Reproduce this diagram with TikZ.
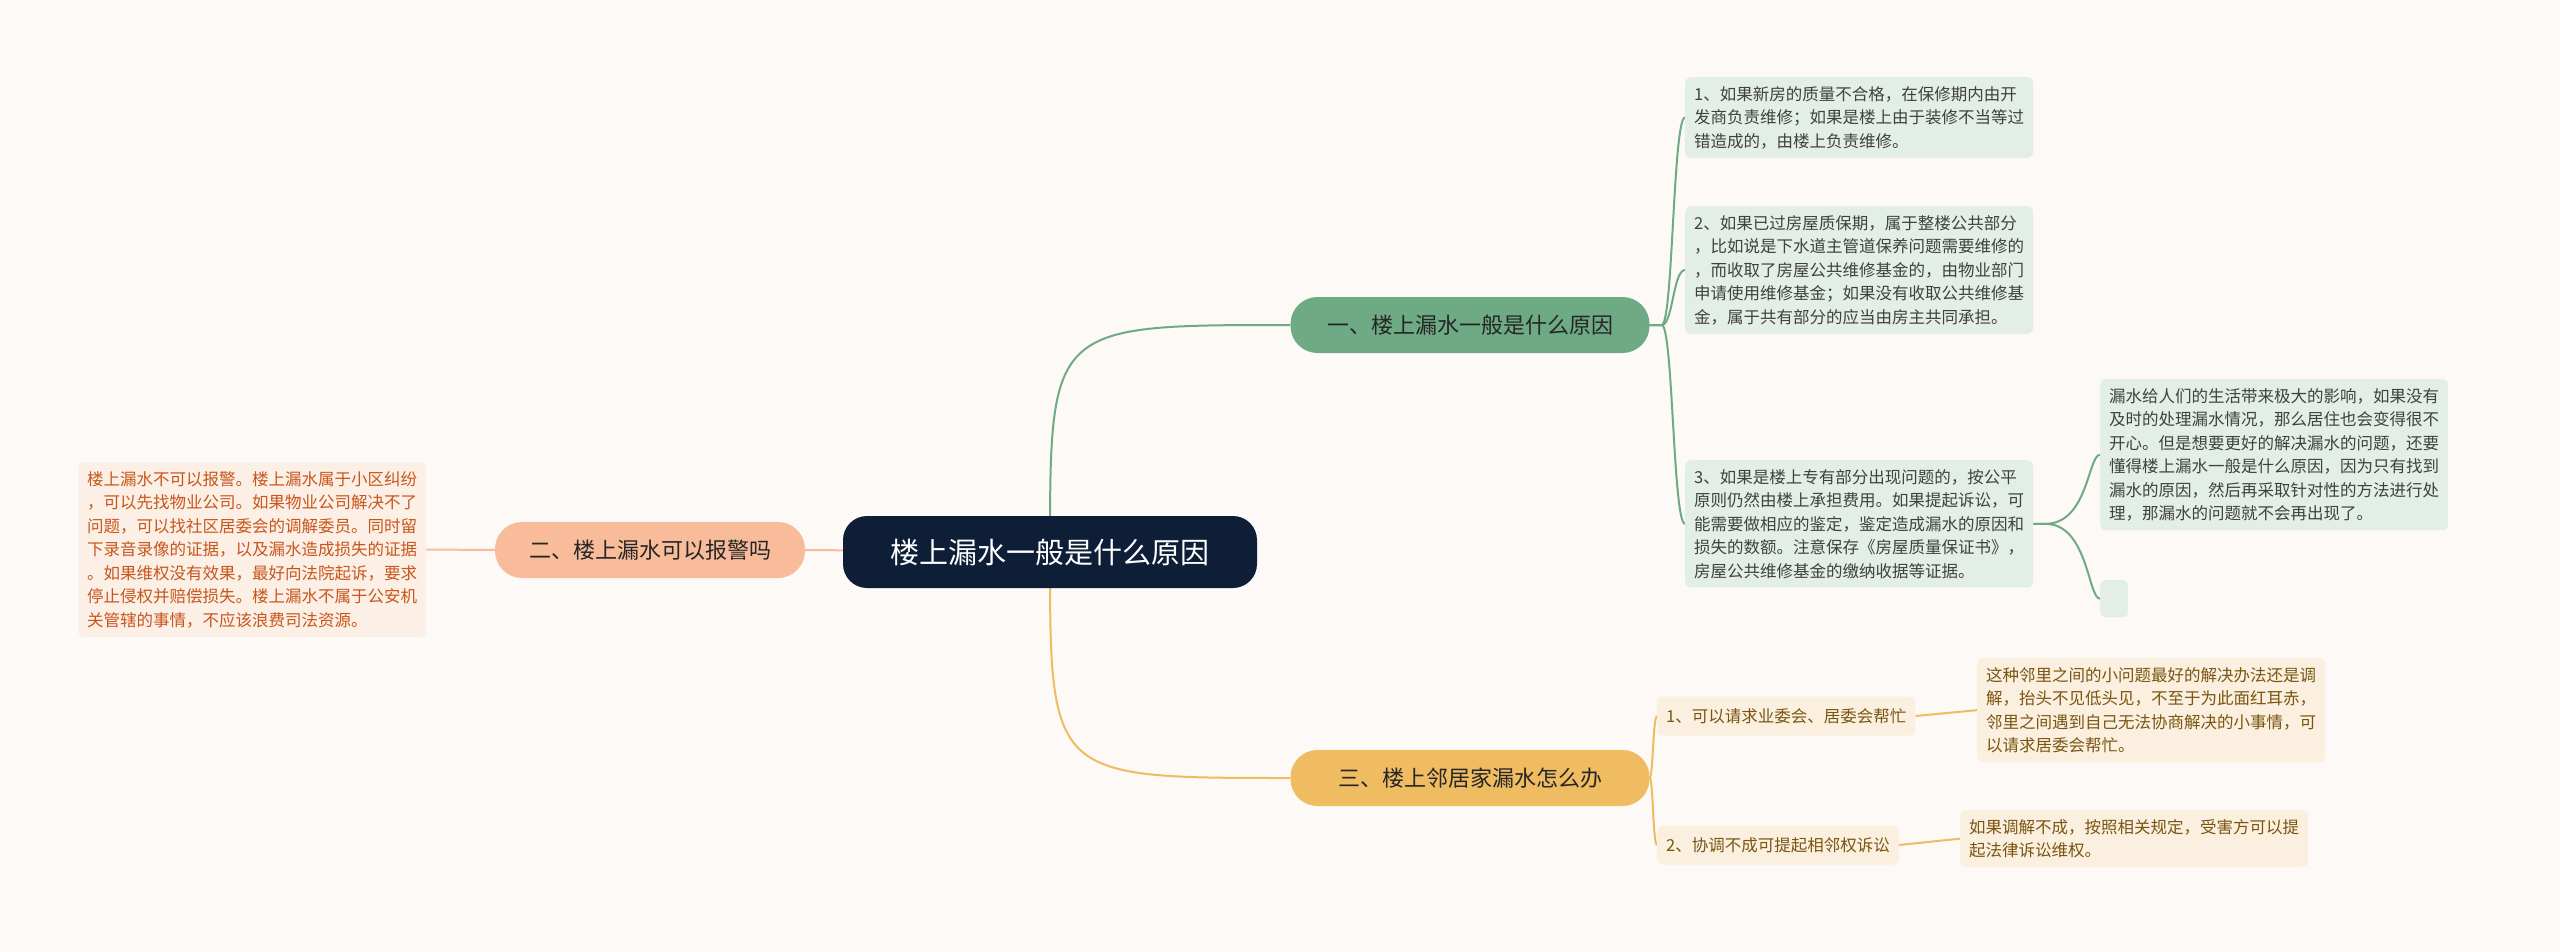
\documentclass[tikz,border=0pt]{standalone}
\usepackage{fontspec}
\setmainfont{Noto Sans CJK SC}
\usetikzlibrary{backgrounds}
\definecolor{bgc}{HTML}{FDF9F6}
\definecolor{rootc}{HTML}{0F1E37}
\definecolor{greenc}{HTML}{6EAA84}
\definecolor{greenl}{HTML}{E3EFE6}
\definecolor{orangec}{HTML}{F8BC9B}
\definecolor{orangel}{HTML}{FCEFE5}
\definecolor{oranget}{HTML}{C8561C}
\definecolor{yellowc}{HTML}{EFBC62}
\definecolor{yellowl}{HTML}{FBF0DF}
\definecolor{yellowt}{HTML}{7A5512}
\tikzset{
  rootbox/.style={fill=rootc,text=white,rounded corners=24pt,minimum width=414pt,minimum height=72pt,font=\fontsize{29}{34}\selectfont},
  branchbox/.style={rounded corners=27pt,minimum width=359pt,minimum height=56pt,text=black!85,font=\fontsize{22}{26}\selectfont},
  leafbox/.style={rounded corners=6pt,anchor=north west,align=left,inner sep=9pt,font=\fontsize{16.5}{23.5}\selectfont},
  subbox/.style={rounded corners=6pt,anchor=west,inner sep=9pt,minimum height=39pt,font=\fontsize{16.5}{20}\selectfont,fill=yellowl,text=yellowt},
  gleaf/.style={leafbox,fill=greenl,text=black!75},
  link/.style={line width=2pt}
}
\begin{document}
\begin{tikzpicture}[x=1pt,y=-1pt]
\useasboundingbox (0,0) rectangle (2560,952);

\node[rootbox] (root) at (1050,552) {楼上漏水一般是什么原因};
\node[branchbox,fill=greenc] (b1) at (1470,325) {一、楼上漏水一般是什么原因};
\node[branchbox,fill=orangec,minimum width=310pt] (b2) at (650,550) {二、楼上漏水可以报警吗};
\node[branchbox,fill=yellowc] (b3) at (1470,778) {三、楼上邻居家漏水怎么办};

% first branch
\node[gleaf] (g1) at (1685,77) {1、如果新房的质量不合格，在保修期内由开\\发商负责维修；如果是楼上由于装修不当等过\\错造成的，由楼上负责维修。};
\node[gleaf] (g2) at (1685,206) {2、如果已过房屋质保期，属于整楼公共部分\\，比如说是下水道主管道保养问题需要维修的\\，而收取了房屋公共维修基金的，由物业部门\\申请使用维修基金；如果没有收取公共维修基\\金，属于共有部分的应当由房主共同承担。};
\node[gleaf] (g3) at (1685,460) {3、如果是楼上专有部分出现问题的，按公平\\原则仍然由楼上承担费用。如果提起诉讼，可\\能需要做相应的鉴定，鉴定造成漏水的原因和\\损失的数额。注意保存《房屋质量保证书》，\\房屋公共维修基金的缴纳收据等证据。};
\node[gleaf] (g3a) at (2100,379) {漏水给人们的生活带来极大的影响，如果没有\\及时的处理漏水情况，那么居住也会变得很不\\开心。但是想要更好的解决漏水的问题，还要\\懂得楼上漏水一般是什么原因，因为只有找到\\漏水的原因，然后再采取针对性的方法进行处\\理，那漏水的问题就不会再出现了。};
\node[fill=greenl,rounded corners=5pt,minimum width=28pt,minimum height=37pt,anchor=north west] (g3b) at (2100,580) {};

% second branch
\node[leafbox,fill=orangel,text=oranget] (o1) at (78,462) {楼上漏水不可以报警。楼上漏水属于小区纠纷\\，可以先找物业公司。如果物业公司解决不了\\问题，可以找社区居委会的调解委员。同时留\\下录音录像的证据，以及漏水造成损失的证据\\。如果维权没有效果，最好向法院起诉，要求\\停止侵权并赔偿损失。楼上漏水不属于公安机\\关管辖的事情，不应该浪费司法资源。};

% third branch
\node[subbox] (y1) at (1657,716) {1、可以请求业委会、居委会帮忙};
\node[subbox] (y2) at (1657,845) {2、协调不成可提起相邻权诉讼};
\node[leafbox,fill=yellowl,text=yellowt] (y1a) at (1977,658) {这种邻里之间的小问题最好的解决办法还是调\\解，抬头不见低头见，不至于为此面红耳赤，\\邻里之间遇到自己无法协商解决的小事情，可\\以请求居委会帮忙。};
\node[leafbox,fill=yellowl,text=yellowt] (y2a) at (1960,810) {如果调解不成，按照相关规定，受害方可以提\\起法律诉讼维权。};

\begin{scope}[on background layer]
\fill[bgc] (0,0) rectangle (2560,952);
\draw[link,greenc] (root.center) .. controls (1050,325) .. (b1.west);
\draw[link,yellowc] (root.center) .. controls (1050,778) .. (b3.west);
\draw[link,orangec] (root.center) -- (b2.east);
\draw[link,orangec] (b2.west) -- (o1.east);
\foreach \n in {g1,g2,g3}
  \draw[link,greenc] (b1.east) -- ++(12,0) .. controls (1673,325) and (1673,0|-\n.west) .. (\n.west);
\foreach \n in {g3a,g3b}
  \draw[link,greenc] (g3.east) -- ++(12,0) .. controls (2088,0|-g3.east) and (2088,0|-\n.west) .. (\n.west);
\foreach \n in {y1,y2}
  \draw[link,yellowc] (b3.east) .. controls (1653,778) and (1653,0|-\n.west) .. (\n.west);
\draw[link,yellowc] (y1.east) -- (y1a.west);
\draw[link,yellowc] (y2.east) -- (y2a.west);
\end{scope}
\end{tikzpicture}
\end{document}
